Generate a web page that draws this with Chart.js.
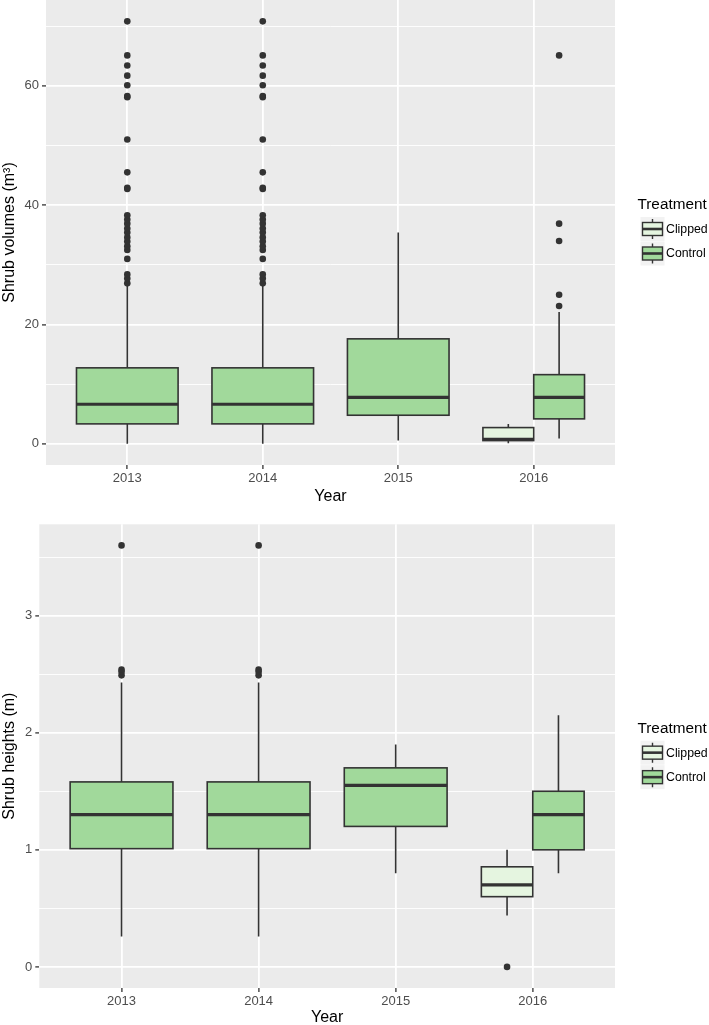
<!DOCTYPE html>
<html>
<head>
<meta charset="utf-8">
<script src="https://cdn.jsdelivr.net/npm/chart.js"></script>
<style>
  html, body { margin: 0; padding: 0; background: #fff; }
  #wrap { position: relative; width: 709px; height: 1025px; overflow: hidden; }
  .panel { position: absolute; left: 0; width: 709px; }
  #volPanel { top: 0; height: 506px; }
  #htPanel { top: 500px; height: 525px; }
</style>
</head>
<body>
<div id="wrap">
  <div class="panel" id="volPanel"><canvas id="volChart" width="709" height="506"></canvas></div>
  <div class="panel" id="htPanel"><canvas id="htChart" width="709" height="525"></canvas></div>
</div>
<script>
// years and treatments
const years = ['2013', '2014', '2015', '2016'];
const treatments = ['Clipped', 'Control'];

// shrub volumes (m3): [lower whisker, Q1, median, Q3, upper whisker], null = no data
const volClipped = [null, null, null, [0.1, 0.55, 0.75, 2.73, 3.35]];
const volControl = [
    [0, 3.35, 6.64, 12.74, 26.5],
    [0, 3.35, 6.64, 12.74, 26.5],
    [0.55, 4.8, 7.8, 17.6, 35.4],
    [0.9, 4.19, 7.8, 11.6, 22.1]
];
const volClippedOut = [[], [], [], []];
const volControlOut = [
    [26.9, 27.7, 28.4, 31.0, 32.5, 33.1, 33.9, 34.6, 35.4, 36.1, 36.9, 37.6, 38.3, 42.7, 42.9, 45.5, 51.0, 58.1, 58.3, 60.1, 61.7, 63.4, 65.1, 70.8],
    [26.9, 27.7, 28.4, 31.0, 32.5, 33.1, 33.9, 34.6, 35.4, 36.1, 36.9, 37.6, 38.3, 42.7, 42.9, 45.5, 51.0, 58.1, 58.3, 60.1, 61.7, 63.4, 65.1, 70.8],
    [],
    [23.1, 25.0, 34.0, 36.9, 65.1]
];
const volTicks = [0, 20, 40, 60];
const volMinor = [10, 30, 50, 70];

// shrub heights (m)
const htClipped = [null, null, null, [0.44, 0.6, 0.7, 0.855, 1.0]];
const htControl = [
    [0.26, 1.01, 1.3, 1.58, 2.43],
    [0.26, 1.01, 1.3, 1.58, 2.43],
    [0.8, 1.2, 1.55, 1.7, 1.9],
    [0.8, 1.0, 1.3, 1.5, 2.15]
];
const htClippedOut = [[], [], [], [0]];
const htControlOut = [
    [2.49, 2.52, 2.54, 3.6],
    [2.49, 2.52, 2.54, 3.6],
    [],
    []
];
const htTicks = [0, 1, 2, 3];
const htMinor = [0.5, 1.5, 2.5, 3.5];

// colours
const fills = { Clipped: '#E5F5E0', Control: '#A1D99B' };
const lineColor = '#333333';
const panelBg = '#EBEBEB';
const fontFamily = '"Liberation Sans", Arial, Helvetica, sans-serif';
const boxWidth = 0.75;

Chart.defaults.font.family = fontFamily;

// position of one box inside a year (dodged when both treatments exist)
function dodge(stats, i, t) {
    const present = treatments.filter(g => stats[g][i]);
    const w = boxWidth / present.length;
    const k = present.indexOf(t);
    return { center: i + 1 - boxWidth / 2 + w * (k + 0.5), width: w };
}

function boxPlugin(stats) {
    return {
        id: 'boxes',
        beforeDraw(chart) {
            const { ctx, chartArea: a } = chart;
            ctx.save();
            ctx.fillStyle = panelBg;
            ctx.fillRect(a.left, a.top, a.right - a.left, a.bottom - a.top);
            ctx.restore();
        },
        beforeDatasetsDraw(chart) {
            const { ctx, scales: { x, y } } = chart;
            ctx.save();
            ctx.strokeStyle = lineColor;
            years.forEach((yr, i) => {
                treatments.forEach(t => {
                    const s = stats[t][i];
                    if (!s) return;
                    const [lo, q1, med, q3, hi] = s;
                    const d = dodge(stats, i, t);
                    const xl = x.getPixelForValue(d.center - d.width / 2);
                    const xr = x.getPixelForValue(d.center + d.width / 2);
                    const xc = x.getPixelForValue(d.center);
                    // whiskers
                    ctx.lineWidth = 1.6;
                    ctx.beginPath();
                    ctx.moveTo(xc, y.getPixelForValue(hi));
                    ctx.lineTo(xc, y.getPixelForValue(q3));
                    ctx.moveTo(xc, y.getPixelForValue(q1));
                    ctx.lineTo(xc, y.getPixelForValue(lo));
                    ctx.stroke();
                    // box
                    const yt = y.getPixelForValue(q3), yb = y.getPixelForValue(q1);
                    ctx.fillStyle = fills[t];
                    ctx.fillRect(xl, yt, xr - xl, yb - yt);
                    ctx.strokeRect(xl, yt, xr - xl, yb - yt);
                    // median
                    ctx.lineWidth = 3.2;
                    ctx.beginPath();
                    ctx.moveTo(xl, y.getPixelForValue(med));
                    ctx.lineTo(xr, y.getPixelForValue(med));
                    ctx.stroke();
                });
            });
            ctx.restore();
        }
    };
}

// legend drawn beside the panel, like ggplot's boxplot keys
const legendPlugin = {
    id: 'treatLegend',
    afterDraw(chart) {
        const { ctx, chartArea: a } = chart;
        const cy = (a.top + a.bottom) / 2;
        const x0 = a.right + 22.5;
        const ks = 24;
        ctx.save();
        ctx.textBaseline = 'middle';
        ctx.textAlign = 'left';
        ctx.fillStyle = '#000';
        ctx.font = '15.3px ' + fontFamily;
        ctx.fillText('Treatment', x0, cy - 27.5);
        treatments.forEach((t, k) => {
            const ky = cy - 3.5 + k * 24.5;
            const kx = x0 + 3;
            const mid = kx + ks / 2;
            ctx.fillStyle = '#F2F2F2';
            ctx.fillRect(kx, ky - ks / 2, ks, ks);
            ctx.strokeStyle = lineColor;
            ctx.lineWidth = 1.4;
            ctx.beginPath();
            ctx.moveTo(mid, ky - 10); ctx.lineTo(mid, ky - 6);
            ctx.moveTo(mid, ky + 6); ctx.lineTo(mid, ky + 10);
            ctx.stroke();
            ctx.fillStyle = fills[t];
            ctx.fillRect(kx + 2, ky - 6.5, ks - 4, 13);
            ctx.strokeRect(kx + 2, ky - 6.5, ks - 4, 13);
            ctx.lineWidth = 2.6;
            ctx.beginPath();
            ctx.moveTo(kx + 2, ky); ctx.lineTo(kx + ks - 2, ky);
            ctx.stroke();
            ctx.fillStyle = '#000';
            ctx.font = '12.3px ' + fontFamily;
            ctx.fillText(t, kx + ks + 1.5, ky + 0.5);
        });
        ctx.restore();
    }
};

function makeChart(canvasId, p) {
    const stats = { Clipped: p.clipped, Control: p.control };
    const outs = { Clipped: p.clippedOut, Control: p.controlOut };
    const allTicks = [...p.major, ...p.minor].sort((a, b) => a - b);

    const datasets = treatments.map(t => ({
        label: t,
        data: outs[t].flatMap((arr, i) => arr.map(v => ({ x: dodge(stats, i, t).center, y: v }))),
        pointRadius: 3.3,
        pointBackgroundColor: lineColor,
        pointBorderWidth: 0,
        showLine: false
    }));

    return new Chart(document.getElementById(canvasId), {
        type: 'scatter',
        data: { datasets },
        plugins: [boxPlugin(stats), legendPlugin],
        options: {
            responsive: false,
            animation: false,
            events: [],
            layout: { autoPadding: false, padding: { top: p.padTop, right: 94, left: 0, bottom: 0 } },
            plugins: { legend: { display: false }, tooltip: { enabled: false } },
            scales: {
                x: {
                    type: 'linear',
                    min: 0.4,
                    max: 4.6,
                    afterBuildTicks: s => { s.ticks = years.map((yr, i) => ({ value: i + 1 })); },
                    afterFit: s => {
                        s.height = p.xHeight;
                        s.paddingLeft = 0;
                        s.paddingRight = 0;
                    },
                    ticks: {
                        callback: v => years[v - 1],
                        autoSkip: false,
                        maxRotation: 0,
                        color: '#4D4D4D',
                        font: { size: 13 },
                        padding: 2
                    },
                    grid: { color: '#FFFFFF', lineWidth: 1.8, tickColor: lineColor, tickLength: 4, tickWidth: 1.3 },
                    border: { display: false },
                    title: {
                        display: true, text: 'Year', color: '#000',
                        font: { size: 16 }, padding: { top: 0, bottom: p.xTitlePad }
                    }
                },
                y: {
                    type: 'linear',
                    min: p.yMin,
                    max: p.yMax,
                    afterBuildTicks: s => { s.ticks = allTicks.map(v => ({ value: v })); },
                    afterFit: s => {
                        s.width = p.yWidth;
                        s.paddingTop = 0;
                        s.paddingBottom = 0;
                    },
                    ticks: {
                        callback: v => p.major.includes(v) ? String(v) : '',
                        autoSkip: false,
                        color: '#4D4D4D',
                        font: { size: 13 },
                        padding: 3
                    },
                    grid: {
                        color: '#FFFFFF',
                        lineWidth: c => p.major.includes(c.tick.value) ? 1.8 : 0.9,
                        tickColor: c => p.major.includes(c.tick.value) ? lineColor : 'rgba(0,0,0,0)',
                        tickLength: 4,
                        tickWidth: 1.3
                    },
                    border: { display: false },
                    title: {
                        display: true, text: p.yTitle, color: '#000',
                        font: { size: 16 }, padding: { top: 0, bottom: 0 }
                    }
                }
            }
        }
    });
}

makeChart('volChart', {
    clipped: volClipped, control: volControl,
    clippedOut: volClippedOut, controlOut: volControlOut,
    major: volTicks, minor: volMinor,
    yMin: -3.54, yMax: 74.38,
    yTitle: 'Shrub volumes (m³)',
    yWidth: 46, xHeight: 41, padTop: 0, xTitlePad: 0
});

makeChart('htChart', {
    clipped: htClipped, control: htControl,
    clippedOut: htClippedOut, controlOut: htControlOut,
    major: htTicks, minor: htMinor,
    yMin: -0.18, yMax: 3.78,
    yTitle: 'Shrub heights (m)',
    yWidth: 39.3, xHeight: 37, padTop: 24.3, xTitlePad: -2.5
});
</script>
</body>
</html>
